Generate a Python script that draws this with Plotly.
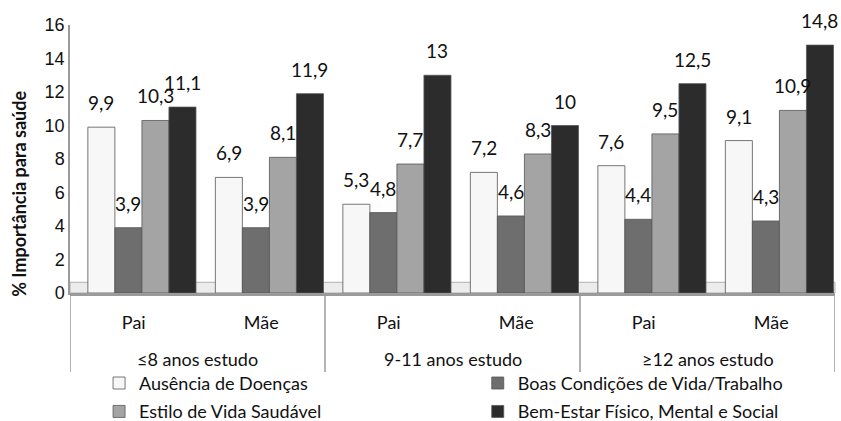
import plotly.graph_objects as go

# Education groups (outer level) and parent (inner level)
group_labels = ["≤8 anos estudo", "9-11 anos estudo", "≥12 anos estudo"]
parents = ["Pai", "Mãe", "Pai", "Mãe", "Pai", "Mãe"]

# Percent importance for health, one list per factor
ausencia_doencas = [9.9, 6.9, 5.3, 7.2, 7.6, 9.1]
boas_condicoes = [3.9, 3.9, 4.8, 4.6, 4.4, 4.3]
estilo_vida = [10.3, 8.1, 7.7, 8.3, 9.5, 10.9]
bem_estar = [11.1, 11.9, 13, 10, 12.5, 14.8]

y_ticks = [0, 2, 4, 6, 8, 10, 12, 14, 16]

# (name, values, colour, legend column)
series = [
    ("Ausência de Doenças", ausencia_doencas, "#f7f7f7", "legend"),
    ("Boas Condições de Vida/Trabalho", boas_condicoes, "#6e6e6e", "legend2"),
    ("Estilo de Vida Saudável", estilo_vida, "#a4a4a4", "legend"),
    ("Bem-Estar Físico, Mental e Social", bem_estar, "#2c2c2c", "legend2"),
]

FONT = "Lato, Liberation Sans, sans-serif"
AXIS_GRAY = "#9a9a9a"

positions = list(range(len(parents)))
bar_w = 0.212
first_offset = -0.36


def fmt(v):
    return f"{v:g}".replace(".", ",")


fig = go.Figure()
for i, (name, vals, color, leg) in enumerate(series):
    off = first_offset + i * bar_w
    fig.add_trace(go.Bar(
        x=positions,
        y=vals,
        name=name,
        legend=leg,
        legendgroup=name,
        width=bar_w,
        offset=off,
        marker=dict(color=color, line=dict(color="#555555", width=0.8)),
    ))
    # value labels sitting above each bar
    for p, v in zip(positions, vals):
        fig.add_annotation(x=p + off + bar_w / 2, xref="x", y=v, yref="y",
                           text=fmt(v), showarrow=False, yanchor="bottom", yshift=11,
                           font=dict(family=FONT, size=19, color="#111"))

# floor strip under the bars
fig.add_shape(type="rect", xref="paper", yref="paper", x0=0, x1=1, y0=0, y1=0.04,
              fillcolor="#ececec", line=dict(color="#b0b0b0", width=1), layer="below")

# category box: top edge and group dividers
box_bottom = -0.295
fig.add_shape(type="line", xref="paper", yref="paper", x0=0, x1=1, y0=-0.008, y1=-0.008,
              line=dict(color=AXIS_GRAY, width=1.5))
for b in [-0.5, 1.5, 3.5, 5.5]:
    fig.add_shape(type="line", xref="x", yref="paper", x0=b, x1=b, y0=-0.008, y1=box_bottom,
                  line=dict(color=AXIS_GRAY, width=1.5))

# outer group labels
for k, lab in enumerate(group_labels):
    fig.add_annotation(x=2 * k + 0.5, xref="x", y=-0.245, yref="paper", text=lab,
                       showarrow=False, font=dict(family=FONT, size=18, color="#111"),
                       xanchor="center", yanchor="middle")

# y axis title
fig.add_annotation(x=-0.067, xref="paper", y=0.369, yref="paper",
                   text="<b>% Importância para saúde</b>", textangle=-90, showarrow=False,
                   xanchor="center", yanchor="middle",
                   font=dict(family=FONT, size=18, color="#111"))

legend_style = dict(orientation="v", y=-0.268, yanchor="top", xanchor="left",
                    font=dict(family=FONT, size=18, color="#111"), tracegroupgap=2,
                    itemwidth=30, bgcolor="rgba(0,0,0,0)")

fig.update_layout(
    width=841, height=421,
    margin=dict(l=70, r=6, t=25, b=128, autoexpand=False),
    paper_bgcolor="white", plot_bgcolor="white",
    barmode="overlay",
    font=dict(family=FONT, size=18, color="#111"),
    showlegend=True,
    legend=dict(x=0.038, **legend_style),
    legend2=dict(x=0.533, **legend_style),
    xaxis=dict(
        range=[-0.5, 5.5], tickvals=positions, ticktext=parents,
        showline=True, linecolor=AXIS_GRAY, linewidth=1.5,
        showgrid=False, zeroline=False, ticks="", ticklabelstandoff=13,
        tickfont=dict(family=FONT, size=18),
    ),
    yaxis=dict(
        range=[0, 16], tickvals=y_ticks, showgrid=False, zeroline=False,
        showline=True, linecolor=AXIS_GRAY, linewidth=1.5, ticks="",
        tickfont=dict(family="Liberation Sans, Arial, sans-serif", size=18),
    ),
)

fig.write_html("out.html")
